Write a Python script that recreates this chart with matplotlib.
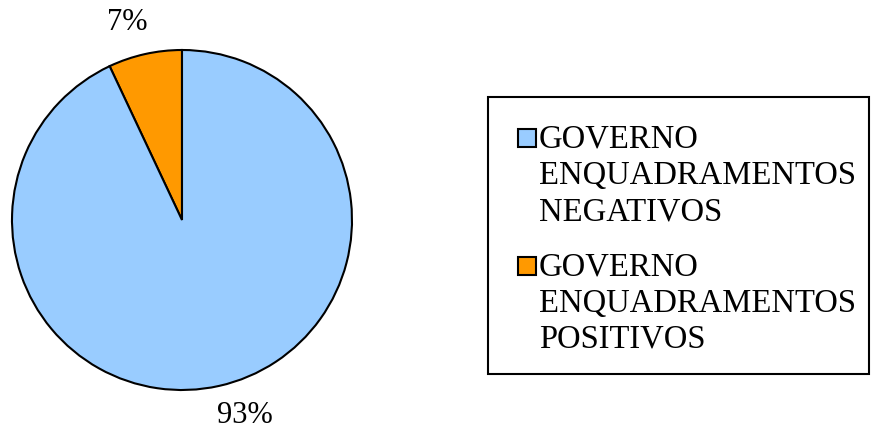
import matplotlib
matplotlib.use("Agg")
import matplotlib.pyplot as plt
from matplotlib.patches import Rectangle

categories = ["GOVERNO ENQUADRAMENTOS NEGATIVOS", "GOVERNO ENQUADRAMENTOS POSITIVOS"]
legend_lines = [["GOVERNO", "ENQUADRAMENTOS", "NEGATIVOS"],
                ["GOVERNO", "ENQUADRAMENTOS", "POSITIVOS"]]
values = [93, 7]
colors = ["#99CCFF", "#FF9900"]

W, H = 872, 433
fig = plt.figure(figsize=(W / 100, H / 100), dpi=100)
plt.rcParams['font.family'] = ['Liberation Serif', 'DejaVu Serif']

def fx(x):
    return x / W

def fy(y):
    return 1 - y / H

# pie axes: center (182,220), radius 170 px
cx, cy, r = 182, 220, 170
ax = fig.add_axes([fx(cx - r), fy(cy + r), 2 * r / W, 2 * r / H])
order = [1, 0]
wedges, texts, autotexts = ax.pie(
    [values[i] for i in order],
    colors=[colors[i] for i in order],
    startangle=90, counterclock=True,
    autopct=lambda p: f"{p:.0f}%", pctdistance=1.21,
    wedgeprops=dict(edgecolor="black", linewidth=1.5),
    textprops=dict(fontsize=22, color="black"),
    radius=1.0,
)
# label placement as in the reference
label_pos = {0: (-0.32, 1.16), 1: (0.37, -1.15)}
for k, t in enumerate(autotexts):
    t.set_position(label_pos[k])
    t.set_ha("center")
    t.set_va("center")
ax.set_xlim(-1, 1)
ax.set_ylim(-1, 1)
ax.set_aspect("equal")
ax.axis("off")

# legend box
box = Rectangle((fx(488), fy(374)), fx(869) - fx(488), fy(97) - fy(374),
                transform=fig.transFigure, facecolor="white", edgecolor="black",
                linewidth=1.5, zorder=1)
fig.patches.append(box)

first_baselines = [148, 276]
line_step = 36
for i, lines in enumerate(legend_lines):
    b0 = first_baselines[i]
    sq = Rectangle((fx(518), fy(b0 - 1)), fx(18), fy(0) - fy(18),
                   transform=fig.transFigure, facecolor=colors[i],
                   edgecolor="black", linewidth=1.5, zorder=2)
    fig.patches.append(sq)
    for j, t in enumerate(lines):
        fig.text(fx(539), fy(b0 + j * line_step), t, fontsize=23.5,
                 va="baseline", ha="left", color="black")

fig.savefig("out.png", dpi=100)
